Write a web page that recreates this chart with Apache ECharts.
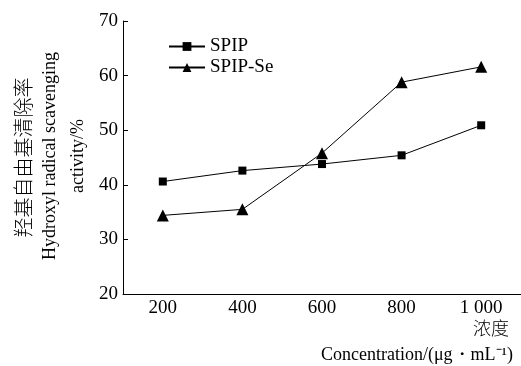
<!DOCTYPE html>
<html><head><meta charset="utf-8">
<script src="https://cdn.jsdelivr.net/npm/echarts@6/dist/echarts.min.js"></script>
<style>html,body{margin:0;padding:0;background:#fff}#c{width:521px;height:366px}</style>
</head><body><div id="c"></div>
<script>
const categories = ['200', '400', '600', '800', '1 000'];
const spip = [40.6, 42.6, 43.8, 45.4, 50.9];
const spipSe = [34.4, 35.5, 45.8, 58.8, 61.6];
const yTicks = [20, 30, 40, 50, 60, 70];

const serif = '"Liberation Serif", "Times New Roman", serif';
const cjk = '"Noto Sans CJK SC", sans-serif';
const chart = echarts.init(document.getElementById('c'));
chart.setOption({
  animation: false,
  backgroundColor: '#fff',
  grid: {left: 123, top: 21, bottom: 72, right: 0},
  legend: {
    orient: 'vertical', left: 163, top: 32, itemWidth: 36, itemHeight: 11, itemGap: 2,
    textStyle: {fontFamily: serif, fontSize: 19, color: '#000'},
    data: ['SPIP', 'SPIP-Se']
  },
  xAxis: {
    type: 'category', data: categories, boundaryGap: true,
    axisLine: {lineStyle: {color: '#000', width: 1}},
    axisTick: {alignWithLabel: true, inside: true, length: 5, lineStyle: {color: '#000'}},
    axisLabel: {fontFamily: serif, fontSize: 19, color: '#000', margin: 5}
  },
  yAxis: {
    type: 'value', min: yTicks[0], max: yTicks[yTicks.length - 1], interval: 10,
    splitLine: {show: false},
    axisLine: {show: true, lineStyle: {color: '#000', width: 1}},
    axisTick: {show: true, inside: true, length: 5, lineStyle: {color: '#000'}},
    axisLabel: {fontFamily: serif, fontSize: 19, color: '#000', margin: 5},
    name: '羟基自由基清除率',
    nameLocation: 'middle', nameRotate: 90, nameGap: 90,
    nameTextStyle: {fontFamily: cjk, fontSize: 20, fontWeight: 300, color: '#000'}
  },
  graphic: [
    {type: 'text', x: 64, y: 156, rotation: Math.PI / 2,
     style: {text: 'Hydroxyl radical scavenging\nactivity/%', font: '18px ' + serif, fill: '#000', align: 'center', verticalAlign: 'middle', lineHeight: 28}},
    {type: 'text', x: 509, y: 328,
     style: {text: '浓度', font: '300 18px ' + cjk, fill: '#000', align: 'right', verticalAlign: 'middle'}},
    {type: 'text', x: 513, y: 355,
     style: {text: 'Concentration/(μg・mL⁻¹)', font: '18px ' + serif, fill: '#000', align: 'right', verticalAlign: 'middle'}}
  ],
  series: [
    {name: 'SPIP', type: 'line', data: spip, symbol: 'rect', symbolSize: 8,
     lineStyle: {color: '#000', width: 1}, itemStyle: {color: '#000'}},
    {name: 'SPIP-Se', type: 'line', data: spipSe, symbol: 'triangle', symbolSize: 12,
     lineStyle: {color: '#000', width: 1}, itemStyle: {color: '#000'}}
  ]
});
</script></body></html>
